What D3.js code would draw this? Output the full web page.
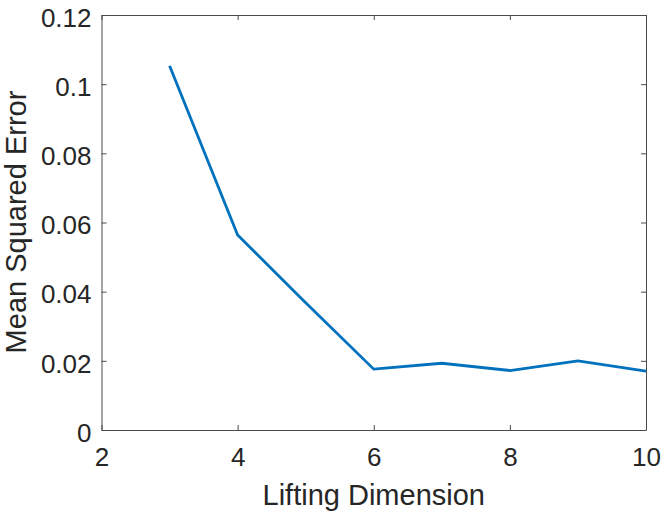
<!DOCTYPE html>
<html>
  <head>
    <script src="https://d3js.org/d3.v7.min.js"></script>
    <style>
      body { margin: 0; background: #fff; }
      text { font-family: "Liberation Sans", Arial, sans-serif; fill: #262626; }
    </style>
  </head>
  <body>
    <svg id="chart" width="665" height="517"></svg>

    <script>
      // values
      const dims = [3, 4, 5, 6, 7, 8, 9, 10];
      const mse = [0.1053, 0.0564, 0.0368, 0.0176, 0.0193, 0.0172, 0.0200, 0.0170];
      const xTicks = [2, 4, 6, 8, 10];
      const yTicks = [0, 0.02, 0.04, 0.06, 0.08, 0.1, 0.12];

      var pLeft = 101.5, pRight = 646, pTop = 15, pBottom = 430;

      var svg = d3.select("#chart");

      var x = d3.scaleLinear().domain([2, 10]).range([pLeft, pRight]);
      var y = d3.scaleLinear().domain([0, 0.12]).range([pBottom, pTop]);

      var axisColor = "#4a4a4a";
      var tickLen = 5;

      // bottom axis with labels
      var xAxis = svg.append("g")
        .attr("transform", "translate(0," + pBottom + ")")
        .call(d3.axisBottom(x).tickValues(xTicks).tickSizeInner(-tickLen).tickSizeOuter(0).tickPadding(18).tickFormat(d3.format("d")));
      // top mirror ticks
      var xTop = svg.append("g")
        .attr("transform", "translate(0," + pTop + ")")
        .call(d3.axisTop(x).tickValues(xTicks).tickSizeInner(-tickLen).tickSizeOuter(0).tickFormat(""));
      // left axis
      var yAxis = svg.append("g")
        .attr("transform", "translate(" + pLeft + ",0)")
        .call(d3.axisLeft(y).tickValues(yTicks).tickSizeInner(-tickLen).tickSizeOuter(0).tickPadding(10).tickFormat(d3.format("~g")));
      // right mirror ticks
      var yRight = svg.append("g")
        .attr("transform", "translate(" + pRight + ",0)")
        .call(d3.axisRight(y).tickValues(yTicks).tickSizeInner(-tickLen).tickSizeOuter(0).tickFormat(""));

      [xAxis, xTop, yAxis, yRight].forEach(function(g) {
        g.select(".domain").attr("stroke", axisColor).attr("stroke-width", 1);
        g.selectAll(".tick line").attr("stroke", axisColor).attr("stroke-width", 1);
        g.selectAll(".tick text")
          .style("font-family", "'Liberation Sans', Arial, sans-serif")
          .style("font-size", "26px")
          .attr("fill", "#262626");
      });
      yAxis.selectAll(".tick text").attr("dy", "0.43em");

      // the line
      var line = d3.line()
        .x(function(d, i) { return x(dims[i]); })
        .y(function(d) { return y(d); });

      svg.append("path")
        .datum(mse)
        .attr("d", line)
        .attr("fill", "none")
        .attr("stroke", "#0072BD")
        .attr("stroke-width", 2.8)
        .attr("stroke-linejoin", "miter");

      // axis labels
      svg.append("text")
        .attr("x", (pLeft + pRight) / 2)
        .attr("y", 505)
        .attr("text-anchor", "middle")
        .style("font-size", "29px")
        .text("Lifting Dimension");

      svg.append("text")
        .attr("transform", "translate(26,222) rotate(-90)")
        .attr("text-anchor", "middle")
        .style("font-size", "29px")
        .text("Mean Squared Error");
    </script>
  </body>
</html>
